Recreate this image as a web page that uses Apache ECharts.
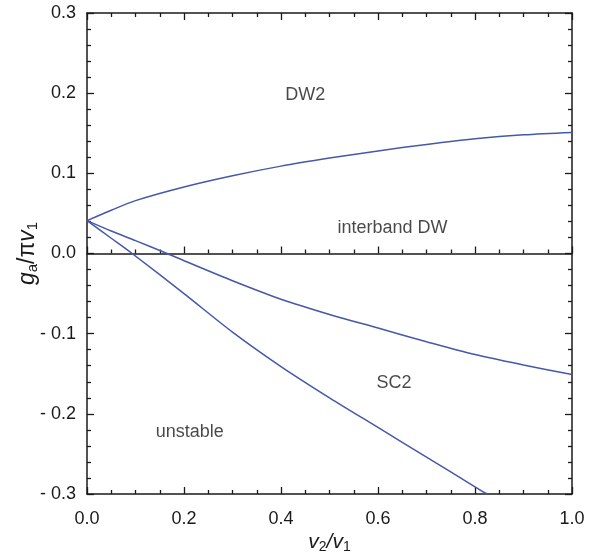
<!DOCTYPE html>
<html>
<head>
<meta charset="utf-8">
<script src="https://cdn.jsdelivr.net/npm/echarts@6/dist/echarts.min.js"></script>
<style>
  html, body { margin: 0; padding: 0; background: #fff; }
  #chart { width: 604px; height: 554px; }
</style>
</head>
<body>
<div id="chart"></div>
<script>
// Phase boundaries in the (v2/v1, g_a/pi v1) plane
const xUpper = [0.0, 0.05, 0.1, 0.2, 0.3, 0.4, 0.5, 0.6, 0.7, 0.8, 0.9, 1.0];
const yUpper = [0.041, 0.054, 0.066, 0.083, 0.097, 0.109, 0.119, 0.128, 0.136, 0.143, 0.148, 0.151];

const xMiddle = [0.0, 0.05, 0.1, 0.165, 0.2, 0.3, 0.4, 0.5, 0.6, 0.7, 0.8, 0.9, 1.0];
const yMiddle = [0.041, 0.028, 0.016, 0.0, -0.009, -0.034, -0.057, -0.076, -0.093, -0.110, -0.126, -0.139, -0.151];

const xLower = [0.0, 0.05, 0.093, 0.2, 0.3, 0.4, 0.5, 0.6, 0.7, 0.8, 0.825];
const yLower = [0.041, 0.019, 0.0, -0.05, -0.098, -0.141, -0.18, -0.217, -0.254, -0.291, -0.30];

// Region names and their positions
const regionNames = ['DW2', 'interband DW', 'SC2', 'unstable'];
const regionX = [0.45, 0.63, 0.633, 0.212];
const regionY = [0.198, 0.032, -0.162, -0.223];

const xTicks = [0.0, 0.2, 0.4, 0.6, 0.8, 1.0];
const yTicks = [-0.3, -0.2, -0.1, 0.0, 0.1, 0.2, 0.3];

const pairs = (xs, ys) => xs.map((x, i) => [x, ys[i]]);

const lineColor = '#4658aa';
const axisColor = '#1a1a1a';
const font = 'Liberation Sans, Arial, Helvetica, sans-serif';

const boxAxisLine = { show: true, lineStyle: { color: axisColor, width: 1.5 } };
const tickStyle = { inside: true, length: 7, lineStyle: { color: axisColor, width: 1.3 } };
const minorStyle = (n) => ({ show: true, splitNumber: n, length: 4, lineStyle: { color: axisColor, width: 1.3 } });

const chart = echarts.init(document.getElementById('chart'), null, { renderer: 'canvas' });

const curve = (xs, ys) => ({
  type: 'line', xAxisIndex: 0, yAxisIndex: 0, smooth: 0.3,
  showSymbol: false, data: pairs(xs, ys), lineStyle: { color: lineColor, width: 1.5 }
});

chart.setOption({
  animation: false,
  backgroundColor: '#ffffff',
  grid: { left: 87, right: 32, top: 13, bottom: 60, containLabel: false, outerBoundsMode: 'none' },
  xAxis: [
    {
      type: 'value', min: 0, max: 1, interval: 0.2, position: 'bottom',
      axisLine: Object.assign({ onZero: false }, boxAxisLine),
      axisTick: tickStyle,
      minorTick: minorStyle(4),
      splitLine: { show: false },
      axisLabel: {
        color: axisColor, fontSize: 18, fontFamily: font, margin: 16,
        formatter: v => v.toFixed(1)
      },
      name: '{v|v}{s|2}{v|/v}{s|1}',
      nameLocation: 'middle',
      nameGap: 37,
      nameMoveOverlap: false,
      nameTextStyle: {
        rich: {
          v: { fontSize: 21, fontStyle: 'italic', fontFamily: font, color: axisColor },
          s: { fontSize: 14, fontFamily: font, color: axisColor, verticalAlign: 'bottom', padding: [9, 0, 0, 0] }
        }
      }
    },
    {
      type: 'value', min: 0, max: 1, interval: 0.2, position: 'top',
      axisLine: Object.assign({ onZero: false }, boxAxisLine),
      axisTick: tickStyle,
      minorTick: minorStyle(4),
      splitLine: { show: false },
      axisLabel: { show: false }
    },
    {
      // tick marks along the g_a = 0 line
      type: 'value', min: 0, max: 1, interval: 0.2, position: 'bottom',
      axisLine: { show: true, onZero: true, onZeroAxisIndex: 0, lineStyle: { color: axisColor, width: 1.5 } },
      axisTick: tickStyle,
      minorTick: minorStyle(4),
      splitLine: { show: false },
      axisLabel: { show: false }
    }
  ],
  yAxis: [
    {
      type: 'value', min: -0.3, max: 0.3, interval: 0.1, position: 'left',
      axisLine: Object.assign({ onZero: false }, boxAxisLine),
      axisTick: tickStyle,
      minorTick: minorStyle(5),
      splitLine: { show: false },
      axisLabel: {
        color: axisColor, fontSize: 18, fontFamily: font, margin: 11,
        formatter: v => {
          const r = Math.round(v * 10) / 10;
          return r < 0 ? '- ' + Math.abs(r).toFixed(1) : r.toFixed(1);
        }
      },
      name: '{g|g}{s|a}{n|/\u03c0}{g|v}{s|1}',
      nameLocation: 'middle',
      nameGap: 47,
      nameMoveOverlap: false,
      nameRotate: 90,
      nameTextStyle: {
        rich: {
          g: { fontSize: 23, fontStyle: 'italic', fontFamily: font, color: axisColor },
          n: { fontSize: 23, fontFamily: font, color: axisColor },
          s: { fontSize: 15, fontFamily: font, color: axisColor, verticalAlign: 'bottom', padding: [10, 0, 0, 0] }
        }
      }
    },
    {
      type: 'value', min: -0.3, max: 0.3, interval: 0.1, position: 'right',
      axisLine: Object.assign({ onZero: false }, boxAxisLine),
      axisTick: tickStyle,
      minorTick: minorStyle(5),
      splitLine: { show: false },
      axisLabel: { show: false }
    }
  ],
  series: [
    curve(xUpper, yUpper),
    curve(xMiddle, yMiddle),
    curve(xLower, yLower),
    {
      type: 'scatter', xAxisIndex: 0, yAxisIndex: 0, symbolSize: 0, silent: true,
      data: regionNames.map((n, i) => ({ name: n, value: [regionX[i], regionY[i]] })),
      label: {
        show: true, position: 'inside', formatter: p => p.name,
        color: axisColor, fontSize: 18, fontFamily: font
      }
    }
  ]
});
</script>
</body>
</html>
